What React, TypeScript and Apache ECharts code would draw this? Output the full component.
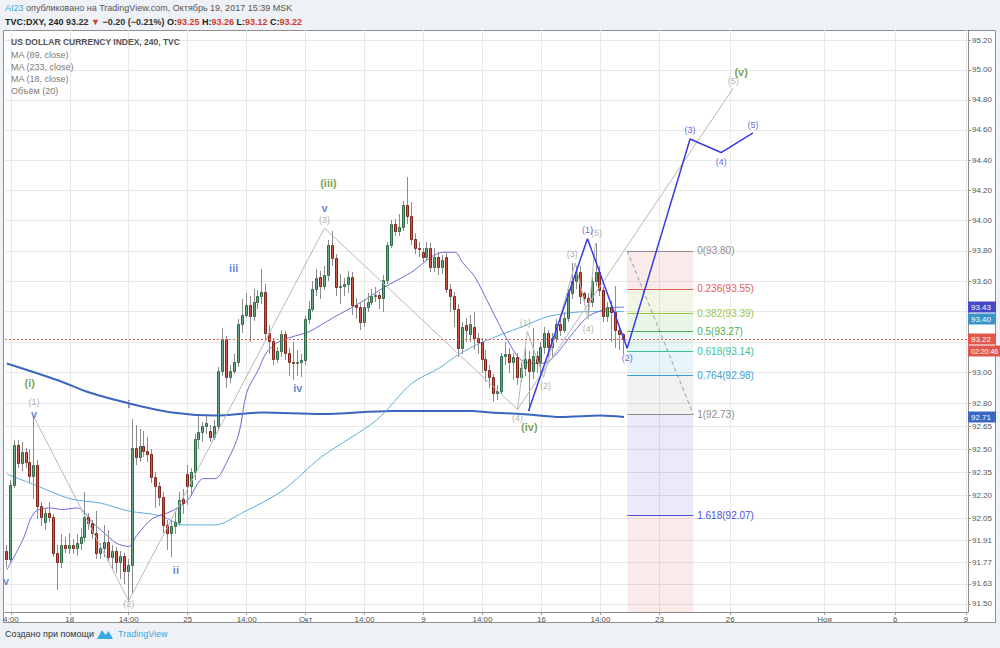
import React, { useEffect, useRef } from "react";
import * as echarts from "echarts";

const FONT = '"Liberation Sans", Arial, Helvetica, sans-serif';

// ---------------- DATA ----------------
// 4h candles: [open, close, low, high]
const candles: number[][] = [
  [91.84, 91.79, 91.74, 91.88], [91.79, 92.27, 91.77, 92.3], [92.27, 92.53, 92.25, 92.56], [92.53, 92.41, 92.38, 92.56],
  [92.41, 92.48, 92.36, 92.55], [92.48, 92.42, 92.38, 92.51], [92.42, 92.33, 92.28, 92.5], [92.33, 92.4, 92.18, 92.72],
  [92.4, 92.13, 92.05, 92.43], [92.13, 92.06, 92.0, 92.16], [92.03, 92.09, 91.98, 92.12], [92.09, 92.06, 92.03, 92.16],
  [92.06, 91.83, 91.8, 92.08], [91.83, 91.77, 91.59, 91.88], [91.77, 91.88, 91.73, 91.95], [91.88, 91.86, 91.83, 91.93],
  [91.86, 91.88, 91.82, 91.96], [91.88, 91.86, 91.82, 91.92], [91.86, 91.89, 91.81, 91.95], [91.89, 91.93, 91.85, 91.99],
  [91.93, 92.06, 91.9, 92.22], [92.06, 92.02, 91.98, 92.09], [92.02, 91.96, 91.92, 92.04], [91.96, 91.83, 91.79, 92.1],
  [91.83, 91.86, 91.79, 91.89], [91.86, 91.9, 91.8, 92.01], [91.9, 91.8, 91.77, 91.98], [91.8, 91.84, 91.72, 91.88],
  [91.84, 91.77, 91.7, 91.87], [91.77, 91.81, 91.66, 91.84], [91.81, 91.71, 91.63, 91.83], [91.71, 91.75, 91.51, 91.79],
  [91.75, 92.51, 91.57, 92.7], [92.51, 92.45, 92.4, 92.66], [92.45, 92.52, 92.42, 92.63], [92.52, 92.49, 92.45, 92.62],
  [92.49, 92.47, 92.42, 92.58], [92.47, 92.32, 92.28, 92.5], [92.32, 92.26, 92.12, 92.35], [92.26, 92.19, 92.13, 92.29],
  [92.19, 92.01, 91.96, 92.22], [92.01, 91.96, 91.85, 92.04], [91.96, 92.0, 91.8, 92.04], [92.0, 92.03, 91.95, 92.1],
  [92.03, 92.17, 92.0, 92.22], [92.18, 92.15, 92.08, 92.24], [92.34, 92.26, 92.14, 92.4], [92.26, 92.35, 92.2, 92.38],
  [92.35, 92.57, 92.3, 92.6], [92.57, 92.61, 92.5, 92.72], [92.61, 92.65, 92.55, 92.68], [92.65, 92.67, 92.6, 92.72],
  [92.62, 92.58, 92.55, 92.66], [92.58, 92.65, 92.56, 92.69], [92.65, 93.01, 92.62, 93.04], [93.01, 93.22, 92.98, 93.29],
  [93.22, 92.97, 92.9, 93.24], [92.97, 93.01, 92.93, 93.05], [93.01, 93.07, 92.99, 93.12], [93.07, 93.32, 93.04, 93.35],
  [93.32, 93.38, 93.26, 93.48], [93.38, 93.44, 93.36, 93.52], [93.44, 93.37, 93.2, 93.5], [93.37, 93.46, 93.34, 93.55],
  [93.46, 93.5, 93.42, 93.54], [93.5, 93.53, 93.45, 93.68], [93.53, 93.26, 93.22, 93.58], [93.26, 93.21, 93.12, 93.31],
  [93.21, 93.09, 93.05, 93.23], [93.09, 93.14, 93.06, 93.17], [93.14, 93.25, 93.1, 93.28], [93.25, 93.13, 93.08, 93.27],
  [93.13, 93.07, 92.98, 93.16], [93.07, 93.06, 92.95, 93.2], [93.06, 93.07, 92.98, 93.15], [93.07, 93.08, 92.97, 93.12],
  [93.08, 93.35, 93.05, 93.37], [93.35, 93.42, 93.32, 93.47], [93.42, 93.55, 93.4, 93.6], [93.55, 93.62, 93.5, 93.68],
  [93.63, 93.57, 93.48, 93.67], [93.57, 93.64, 93.54, 93.7], [93.64, 93.84, 93.6, 93.87], [93.84, 93.75, 93.7, 93.93],
  [93.75, 93.56, 93.5, 93.78], [93.56, 93.57, 93.45, 93.65], [93.57, 93.58, 93.5, 93.62], [93.58, 93.63, 93.52, 93.67],
  [93.63, 93.44, 93.38, 93.66], [93.44, 93.43, 93.35, 93.49], [93.43, 93.33, 93.28, 93.46], [93.33, 93.43, 93.3, 93.48],
  [93.43, 93.46, 93.4, 93.52], [93.46, 93.5, 93.44, 93.55], [93.5, 93.51, 93.46, 93.56], [93.51, 93.49, 93.42, 93.53],
  [93.49, 93.61, 93.4, 93.64], [93.61, 93.84, 93.58, 93.86], [93.84, 93.98, 93.82, 94.0], [93.98, 93.93, 93.9, 94.01],
  [93.93, 93.96, 93.9, 94.04], [93.96, 94.1, 93.93, 94.13], [94.1, 94.03, 93.98, 94.29], [94.03, 93.88, 93.84, 94.12],
  [93.88, 93.82, 93.78, 93.92], [93.82, 93.81, 93.76, 93.86], [93.79, 93.76, 93.72, 93.82], [93.76, 93.82, 93.73, 93.86],
  [93.82, 93.69, 93.66, 93.85], [93.69, 93.76, 93.66, 93.82], [93.76, 93.69, 93.64, 93.79], [93.69, 93.74, 93.65, 93.77],
  [93.76, 93.55, 93.52, 93.79], [93.55, 93.5, 93.4, 93.58], [93.5, 93.42, 93.3, 93.53], [93.42, 93.16, 93.1, 93.45],
  [93.16, 93.3, 93.12, 93.33], [93.31, 93.28, 93.2, 93.36], [93.25, 93.32, 93.2, 93.38], [93.3, 93.23, 93.15, 93.4],
  [93.23, 93.2, 93.12, 93.26], [93.2, 93.09, 93.0, 93.23], [93.09, 93.02, 92.94, 93.15], [93.02, 92.97, 92.9, 93.05],
  [92.97, 92.87, 92.81, 92.99], [92.87, 92.88, 92.82, 92.92], [92.88, 93.11, 92.86, 93.13], [93.11, 93.12, 93.05, 93.2],
  [93.12, 93.07, 93.0, 93.16], [93.07, 93.1, 92.95, 93.13], [93.1, 92.97, 92.92, 93.13], [92.97, 93.03, 92.94, 93.07],
  [93.03, 93.09, 92.98, 93.16], [93.09, 93.01, 92.75, 93.14], [93.01, 93.11, 92.96, 93.29], [93.11, 93.06, 93.0, 93.14],
  [93.07, 93.17, 92.97, 93.2], [93.17, 93.26, 93.12, 93.3], [93.26, 93.17, 93.1, 93.28], [93.17, 93.23, 93.1, 93.26],
  [93.23, 93.32, 93.2, 93.35], [93.32, 93.28, 93.24, 93.36], [93.28, 93.36, 93.26, 93.4], [93.36, 93.52, 93.33, 93.55],
  [93.52, 93.6, 93.48, 93.72], [93.6, 93.66, 93.55, 93.7], [93.66, 93.5, 93.45, 93.7], [93.52, 93.49, 93.44, 93.53],
  [93.49, 93.46, 93.35, 93.52], [93.46, 93.6, 93.43, 93.63], [93.6, 93.66, 93.57, 93.85], [93.66, 93.54, 93.5, 93.7],
  [93.54, 93.37, 93.33, 93.56], [93.37, 93.43, 93.33, 93.46], [93.43, 93.4, 93.2, 93.47], [93.4, 93.28, 93.16, 93.57],
  [93.28, 93.25, 93.15, 93.3], [93.25, 93.22, 93.12, 93.26],
];

// moving averages: [bar index, value]
const ma18: number[][] = [
  [0, 91.72], [4, 91.91], [7, 92.09], [11, 92.12], [14, 92.11], [18, 92.12], [22, 92.02], [26, 91.93], [28, 91.89],
  [31, 91.87], [33, 91.94], [37, 92.05], [42, 92.1], [46, 92.17], [50, 92.31], [53, 92.31], [56, 92.42], [59, 92.6],
  [61, 92.87], [64, 93.02], [66, 93.13], [69, 93.2], [72, 93.23], [77, 93.27], [83, 93.36], [90, 93.46], [96, 93.56],
  [103, 93.66], [108, 93.76], [111, 93.79], [114, 93.79], [116, 93.72], [119, 93.63], [123, 93.43], [127, 93.23],
  [131, 93.08], [136, 93.06], [139, 93.1], [144, 93.26], [148, 93.37], [153, 93.42], [157, 93.43],
];
const ma89: number[][] = [
  [0, 92.34], [7, 92.27], [16, 92.18], [24, 92.15], [31, 92.1], [39, 92.07], [45, 92.01], [53, 92.01], [60, 92.09],
  [70, 92.23], [80, 92.45], [94, 92.69], [103, 92.93], [110, 93.03], [115, 93.12], [121, 93.2], [131, 93.3],
  [138, 93.37], [148, 93.4], [157, 93.4],
];
const ma233: number[][] = [
  [0, 93.06], [13, 92.95], [21, 92.87], [31, 92.8], [42, 92.74], [53, 92.72], [65, 92.74], [80, 92.73], [98, 92.75],
  [108, 92.75], [118, 92.75], [123, 92.74], [131, 92.73], [141, 92.71], [151, 92.72], [157, 92.71],
];

// Elliott wave drawings: [bar index, price]
const bigWave: number[][] = [[6.9, 92.71], [31.0, 91.52], [80.8, 93.95], [129.9, 92.76], [184.8, 94.88]];
const subWave: number[][] = [[129.9, 92.76], [132.4, 93.27], [136.5, 92.97], [144.6, 93.72], [147.9, 93.35], [149.7, 93.85]];
const projWave: number[][] = [[132.7, 92.75], [147.7, 93.88], [157.8, 93.16], [173.8, 94.54], [181.7, 94.45], [189.8, 94.58]];

// wave labels: [text, bar index, price, kind]
const waveLabels: [string, number, number, string][] = [
  ["v", -0.2, 91.65, "minor"], ["(1)", 6.9, 92.81, "grey"], ["v", 6.9, 92.733, "minor"], ["(i)", 5.8, 92.933, "major"],
  ["i", 31.0, 92.793, "minor"], ["(2)", 31.0, 91.5, "grey"], ["ii", 43.0, 91.719, "minor"], ["iii", 57.7, 93.687, "minor"],
  ["iv", 74.0, 92.9, "minor"], ["v", 80.8, 94.085, "minor"], ["(3)", 80.8, 94.0, "grey"], ["(iii)", 81.8, 94.247, "major"],
  ["(4)", 129.9, 92.702, "grey"], ["(iv)", 132.9, 92.645, "major"], ["(5)", 184.8, 94.927, "grey"], ["(v)", 186.8, 94.987, "major"],
  ["(1)", 131.9, 93.327, "grey"], ["(2)", 137.0, 92.913, "grey"], ["(3)", 143.8, 93.78, "grey"], ["(4)", 147.9, 93.287, "grey"],
  ["(5)", 150.0, 93.92, "grey"], ["(1)", 147.7, 93.94, "proj"], ["(2)", 157.8, 93.097, "proj"], ["(3)", 173.8, 94.6, "proj"],
  ["(4)", 181.7, 94.387, "proj"], ["(5)", 189.8, 94.633, "proj"],
];

// Fibonacci retracement
const fibX = [157.8, 174.6];
const fibRatios = [0, 0.236, 0.382, 0.5, 0.618, 0.764, 1, 1.618];
const fibValues = [93.8, 93.55, 93.39, 93.27, 93.14, 92.98, 92.73, 92.07];
const fibExtValue = 91.0; // 2.618 level (below view)

// axes
const xTickIdx = [1, 16, 31, 46, 61, 76, 91, 106, 121, 136, 151, 166, 184, 208, 226, 244];
const xTickText = ["4:00", "18", "14:00", "25", "14:00", "Окт", "14:00", "9", "14:00", "16", "14:00", "23", "26", "Ноя", "6", "9"];
const yLabelValues = [95.2, 95.0, 94.8, 94.6, 94.4, 94.2, 94.0, 93.8, 93.6, 93.0, 92.8, 92.65, 92.5, 92.35, 92.2, 92.05, 91.91, 91.77, 91.63, 91.5];
const yGridValues = [95.2, 95.0, 94.8, 94.6, 94.4, 94.2, 94.0, 93.8, 93.6, 93.4, 93.2, 93.0, 92.8, 92.65, 92.5, 92.35, 92.2, 92.05, 91.91, 91.77, 91.63, 91.5];
const Y_MIN = 91.4485;
const Y_MAX = 95.267;
const X_MIN = -0.5;
const X_MAX = 244.5;

const maLast = { ma18: 93.43, ma89: 93.4, ma233: 92.71 };
const countdown = "02:20:46";

// ---------------- STYLE ----------------
const UP_FILL = "#6aa583";
const UP_LINE = "#2f6b48";
const DN_FILL = "#d65745";
const DN_LINE = "#7e261c";
const WICK = "#8c8c8c";
const C_MA18 = "#6b6bdc";
const C_MA89 = "#5eaed8";
const C_MA233 = "#3a66bf";
const fibLineColors = ["#8c8c8c", "#e35b5b", "#9bc53d", "#4caf50", "#3bbf9f", "#3ba1d8", "#8c8c8c", "#4f4fe0"];
const fibBandColors = [
  "rgba(227,91,91,0.13)", "rgba(155,197,61,0.14)", "rgba(76,175,80,0.13)", "rgba(59,191,159,0.13)",
  "rgba(59,161,216,0.12)", "rgba(140,140,140,0.12)", "rgba(79,79,224,0.12)", "rgba(227,91,91,0.12)",
];
const labelStyles: Record<string, any> = {
  minor: { color: "#3b6cc4", fontSize: 11, fontWeight: "bold" },
  major: { color: "#5b8c2a", fontSize: 11, fontWeight: "bold" },
  grey: { color: "#9a9a9a", fontSize: 9, fontWeight: "normal" },
  proj: { color: "#3d3dd0", fontSize: 9, fontWeight: "normal" },
};

function buildOption(): any {
  const candleData = candles.map((c, i) => [i, c[0], c[1], c[2], c[3]]);
  const renderCandle = (_params: any, api: any) => {
    const x = api.value(0);
    const o = api.value(1);
    const c = api.value(2);
    const l = api.value(3);
    const h = api.value(4);
    const pO = api.coord([x, o]);
    const pC = api.coord([x, c]);
    const pL = api.coord([x, l]);
    const pH = api.coord([x, h]);
    const px = Math.round(pO[0]);
    const up = c >= o;
    const top = Math.round(Math.min(pO[1], pC[1]));
    let bot = Math.round(Math.max(pO[1], pC[1]));
    if (bot - top < 1) bot = top + 1;
    return {
      type: "group",
      children: [
        {
          type: "line",
          shape: { x1: px - 0.5, y1: Math.round(pH[1]), x2: px - 0.5, y2: Math.round(pL[1]) },
          style: { stroke: WICK, lineWidth: 1 },
        },
        {
          type: "rect",
          shape: { x: px - 1.5, y: top + 0.5, width: 2, height: bot - top },
          style: { fill: up ? UP_FILL : DN_FILL, stroke: up ? UP_LINE : DN_LINE, lineWidth: 1 },
        },
      ],
    };
  };

  const bands: any[] = [];
  for (let i = 0; i < fibValues.length; i++) {
    const a = fibValues[i];
    const b = i + 1 < fibValues.length ? fibValues[i + 1] : Math.max(fibExtValue, Y_MIN);
    bands.push([{ coord: [fibX[0], a], itemStyle: { color: fibBandColors[i] } }, { coord: [fibX[1], b] }]);
  }
  const fibLines = fibValues.map((v, i) => [
    {
      coord: [fibX[0], v],
      lineStyle: { color: fibLineColors[i], width: 1, type: "solid" },
      label: {
        show: true,
        position: "end",
        distance: 4,
        formatter: `${fibRatios[i]}(${v.toFixed(2)})`,
        color: fibLineColors[i],
        fontSize: 10,
        fontFamily: FONT,
      },
    },
    { coord: [fibX[1], v] },
  ]);

  const lastClose = candles[candles.length - 1][1];

  return {
    animation: false,
    backgroundColor: "#eef1f5",
    textStyle: { fontFamily: FONT },
    grid: { left: 4, right: 32, top: 30, bottom: 36, show: false },
    xAxis: {
      type: "value",
      min: X_MIN,
      max: X_MAX,
      axisLine: { show: true, onZero: false, lineStyle: { color: "#8a8a8a" } },
      axisTick: { show: true, length: 3, customValues: xTickIdx, lineStyle: { color: "#9a9a9a" } },
      axisLabel: {
        customValues: xTickIdx,
        formatter: (v: number) => {
          const k = xTickIdx.indexOf(Math.round(v));
          return k >= 0 ? xTickText[k] : "";
        },
        fontSize: 8,
        color: "#555",
        margin: 3,
        fontFamily: FONT,
      },
      splitLine: { show: true, lineStyle: { color: "#e8e8e8", width: 1 } },
    },
    yAxis: {
      type: "log",
      logBase: 10,
      min: Y_MIN,
      max: Y_MAX,
      position: "right",
      axisLine: { show: true, onZero: false, lineStyle: { color: "#8a8a8a" } },
      axisTick: { show: true, length: 3, customValues: yGridValues, lineStyle: { color: "#9a9a9a" } },
      axisLabel: {
        customValues: yLabelValues,
        formatter: (v: number) => Number(v).toFixed(2),
        fontSize: 8,
        color: "#555",
        margin: 4,
        fontFamily: FONT,
      },
      splitLine: { show: true, lineStyle: { color: "#e8e8e8", width: 1 } },
    },
    series: [
      {
        name: "Fibonacci",
        type: "line",
        data: [[fibX[0], fibValues[0]], [fibX[1], fibValues[6]]],
        symbol: "none",
        lineStyle: { color: "#9a9a9a", width: 1, type: [4, 3] },
        z: 1,
        markArea: { silent: true, data: bands },
        markLine: { silent: true, symbol: ["none", "none"], data: fibLines },
      },
      {
        name: "MA (233, close)",
        type: "line",
        data: ma233,
        symbol: "none",
        smooth: 0.3,
        lineStyle: { color: C_MA233, width: 2 },
        z: 2,
      },
      {
        name: "MA (89, close)",
        type: "line",
        data: ma89,
        symbol: "none",
        smooth: 0.3,
        lineStyle: { color: C_MA89, width: 1 },
        z: 2,
      },
      {
        name: "MA (18, close)",
        type: "line",
        data: ma18,
        symbol: "none",
        smooth: 0.3,
        lineStyle: { color: C_MA18, width: 1 },
        z: 2,
      },
      {
        name: "DXY",
        type: "custom",
        data: candleData,
        encode: { x: 0, y: [1, 2, 3, 4] },
        renderItem: renderCandle,
        z: 3,
      },
      {
        name: "Last",
        type: "line",
        data: [[candles.length - 1, lastClose]],
        symbol: "none",
        z: 3,
        markLine: {
          silent: true,
          symbol: ["none", "none"],
          label: { show: false },
          lineStyle: { color: "#e0604f", width: 1, type: [2, 2] },
          data: [{ yAxis: lastClose }],
        },
      },
      {
        name: "Wave big",
        type: "line",
        data: bigWave,
        symbol: "none",
        lineStyle: { color: "#b8b8b8", width: 1 },
        z: 4,
      },
      {
        name: "Wave sub",
        type: "line",
        data: subWave,
        symbol: "none",
        lineStyle: { color: "#b8b8b8", width: 1 },
        z: 4,
      },
      {
        name: "Wave projection",
        type: "line",
        data: projWave,
        symbol: "none",
        lineStyle: { color: "#3b3be6", width: 1.5 },
        z: 5,
      },
      {
        name: "Wave labels",
        type: "scatter",
        symbolSize: 1,
        itemStyle: { color: "rgba(0,0,0,0)" },
        z: 6,
        data: waveLabels.map(([t, x, p, kind]) => ({
          name: t,
          value: [x, p],
          label: { show: true, position: "inside", formatter: "{b}", fontFamily: FONT, ...labelStyles[kind] },
        })),
      },
    ],
  };
}

export default function App() {
  const ref = useRef<HTMLDivElement>(null);
  useEffect(() => {
    const chart = echarts.init(ref.current as HTMLDivElement, null, { renderer: "svg" });
    chart.setOption(buildOption());

    const last = candles[candles.length - 1];
    const toY = (v: number) => chart.convertToPixel({ yAxisIndex: 0 } as any, v) as unknown as number;
    const badgeDefs = [
      { v: maLast.ma18, text: maLast.ma18.toFixed(2), bg: "#4848c8", w: 28, fs: 8 },
      { v: maLast.ma89, text: maLast.ma89.toFixed(2), bg: "#3a95c6", w: 28, fs: 8 },
      { v: last[1], text: last[1].toFixed(2), bg: "#e2574c", w: 28, fs: 8 },
      { v: last[1], text: countdown, bg: "#e2574c", w: 32, fs: 7 },
      { v: maLast.ma233, text: maLast.ma233.toFixed(2), bg: "#3a66c2", w: 28, fs: 8 },
    ];
    let prevY = -1e9;
    const elements: any[] = [];
    elements.push({
      id: "frame",
      type: "rect",
      z: -100,
      silent: true,
      shape: { x: 3.5, y: 30.5, width: 992, height: 592 },
      style: { fill: "#ffffff", stroke: "#8f8f8f", lineWidth: 1 },
    });
    badgeDefs.forEach((b, i) => {
      let y = toY(b.v);
      if (y < prevY + 11.5) y = prevY + 11.5;
      prevY = y;
      elements.push({
        id: "badge-r" + i,
        type: "rect",
        z: 50,
        silent: true,
        shape: { x: 968, y: Math.round(y) - 5.5, width: b.w, height: 11 },
        style: { fill: b.bg },
      });
      elements.push({
        id: "badge-t" + i,
        type: "text",
        z: 51,
        silent: true,
        x: 971,
        y: Math.round(y),
        style: { text: b.text, fill: "#ffffff", font: `${b.fs}px ${FONT}`, align: "left", verticalAlign: "middle" },
      });
    });

    elements.push({
      id: "h1",
      type: "text",
      x: 5,
      y: 8,
      silent: true,
      style: {
        text: "{a|AI23} {b|опубликовано на TradingView.com, Октябрь 19, 2017 15:39 MSK}",
        fill: "#555",
        font: `9px ${FONT}`,
        verticalAlign: "middle",
        rich: {
          a: { fill: "#3aa9e2", fontSize: 9, fontFamily: FONT },
          b: { fill: "#555555", fontSize: 9, fontFamily: FONT },
        },
      },
    });
    elements.push({
      id: "h2",
      type: "text",
      x: 5,
      y: 22,
      silent: true,
      style: {
        text:
          `{k|TVC:DXY, 240} {v|${last[1].toFixed(2)}} {r|▼} {v|−0.20 (−0.21%)} ` +
          `{k|O:}{r|${last[0].toFixed(2)}} {k|H:}{r|${last[3].toFixed(2)}} {k|L:}{r|${last[2].toFixed(2)}} {k|C:}{r|${last[1].toFixed(2)}}`,
        fill: "#333",
        font: `bold 9px ${FONT}`,
        verticalAlign: "middle",
        rich: {
          k: { fill: "#222222", fontSize: 9, fontWeight: "bold", fontFamily: FONT },
          v: { fill: "#333333", fontSize: 9, fontWeight: "bold", fontFamily: FONT },
          r: { fill: "#d23c2c", fontSize: 9, fontWeight: "bold", fontFamily: FONT },
        },
      },
    });
    const legend = [
      { t: "US DOLLAR CURRENCY INDEX, 240, TVC", y: 42, c: "#555555", w: "bold" },
      { t: "MA (89, close)", y: 54.5, c: "#7a7a7a", w: "normal" },
      { t: "MA (233, close)", y: 66.5, c: "#7a7a7a", w: "normal" },
      { t: "MA (18, close)", y: 78.5, c: "#7a7a7a", w: "normal" },
      { t: "Объём (20)", y: 90.5, c: "#7a7a7a", w: "normal" },
    ];
    legend.forEach((l, i) => {
      elements.push({
        id: "lg" + i,
        type: "text",
        x: 11,
        y: l.y,
        silent: true,
        z: 20,
        style: { text: l.t, fill: l.c, font: `${l.w} ${i === 0 ? 8.5 : 9}px ${FONT}`, align: "left", verticalAlign: "middle" },
      });
    });
    elements.push({
      id: "foot",
      type: "text",
      x: 5,
      y: 634,
      silent: true,
      style: { text: "Создано при помощи", fill: "#333333", font: `9px ${FONT}`, align: "left", verticalAlign: "middle" },
    });
    elements.push({
      id: "logo",
      type: "polygon",
      silent: true,
      shape: { points: [[97, 639], [102, 630], [105.5, 635], [108.5, 631], [113, 639]] },
      style: { fill: "#3aa9e2" },
    });
    elements.push({
      id: "foot2",
      type: "text",
      x: 118,
      y: 634,
      silent: true,
      style: { text: "TradingView", fill: "#3aa9e2", font: `9px ${FONT}`, align: "left", verticalAlign: "middle" },
    });

    chart.setOption({ graphic: { elements } });
    return () => chart.dispose();
  }, []);
  return <div ref={ref} style={{ position: "fixed", left: 0, top: 0, width: 1000, height: 648 }} />;
}
